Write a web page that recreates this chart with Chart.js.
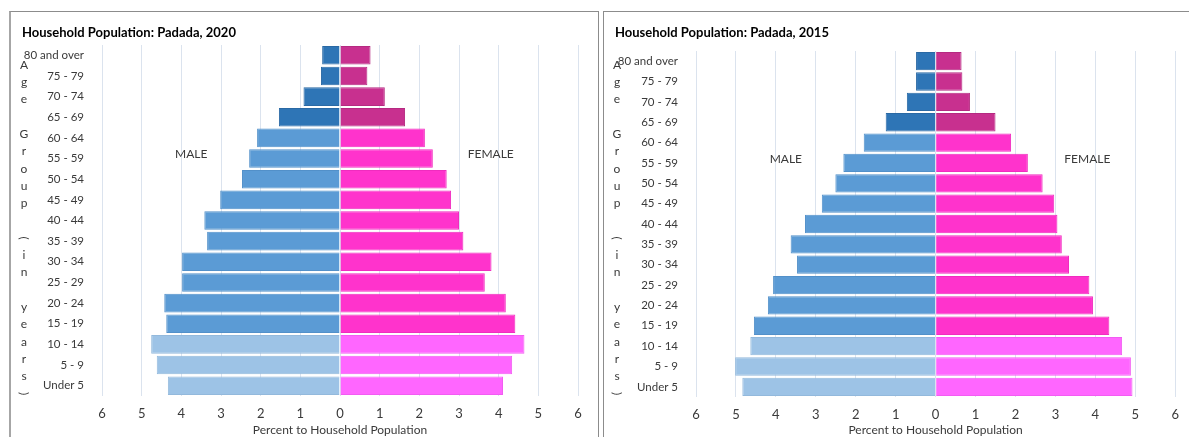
<!DOCTYPE html>
<html>
<head>
<meta charset="utf-8">
<script src="https://cdn.jsdelivr.net/npm/chart.js@4.4.1/dist/chart.umd.min.js"></script>
<style>
  html, body { margin:0; padding:0; background:#fff; width:1189px; height:437px; overflow:hidden; }
  .panel { position:absolute; top:11px; height:440px; border:1px solid #8c8c8c; background:#fff; }
  #p1 { left:9px; width:587px; border-left:2px solid #a6a6a6; }
  #p2 { left:603px; width:600px; }
  canvas { position:absolute; left:0; top:0; }
</style>
</head>
<body>
<div class="panel" id="p1"><canvas id="pyr2020" width="587" height="425"></canvas></div>
<div class="panel" id="p2"><canvas id="pyr2015" width="585" height="425"></canvas></div>
<script>
/* Household population pyramids, Padada 2020 vs 2015 */
const ageGroups = ['80 and over','75 - 79','70 - 74','65 - 69','60 - 64','55 - 59','50 - 54','45 - 49',
  '40 - 44','35 - 39','30 - 34','25 - 29','20 - 24','15 - 19','10 - 14','5 - 9','Under 5'];

const male2020   = [0.45,0.48,0.92,1.54,2.09,2.29,2.47,3.02,3.42,3.35,3.98,3.98,4.43,4.38,4.76,4.62,4.34];
const female2020 = [0.77,0.69,1.13,1.64,2.14,2.34,2.69,2.80,3.00,3.11,3.82,3.65,4.18,4.42,4.65,4.34,4.11];
const male2015   = [0.49,0.49,0.72,1.25,1.80,2.31,2.51,2.85,3.27,3.63,3.47,4.07,4.20,4.55,4.64,5.02,4.84];
const female2015 = [0.65,0.67,0.86,1.50,1.89,2.31,2.68,2.97,3.05,3.16,3.34,3.85,3.94,4.35,4.67,4.89,4.93];

const xTicks = [-6,-5,-4,-3,-2,-1,0,1,2,3,4,5,6];

const FONT = 'Lato, "Liberation Sans", Arial, sans-serif';
const TXT = '#3a3a3a';

// old (65+), working age (15-64), young (0-14)
function tier(i){ return i < 4 ? 0 : (i < 14 ? 1 : 2); }
const maleFill   = ['#2e75b6','#5b9bd5','#9dc3e6'];
const maleEdge   = ['#2a69a4','#5290c9','#93b9dc'];
const femaleFill = ['#c8308f','#ff33cc','#ff66ff'];
const femaleEdge = ['#b52a81','#f02cbf','#f25cf2'];

function decorations(title){
  return {
    id: 'decor',
    afterDraw(chart){
      const c = chart.ctx, x = chart.scales.x, y = chart.scales.y;
      c.save();
      // chart title
      c.fillStyle = '#000';
      c.font = 'bold 13px ' + FONT;
      c.textAlign = 'left'; c.textBaseline = 'middle';
      c.fillText(title, 11, 21);
      // stacked vertical axis title
      c.fillStyle = TXT;
      c.font = '12px ' + FONT;
      c.textAlign = 'center';
      const letters = 'Age Group (in years)'.split('');
      const y0 = 53, step = 17.3;
      letters.forEach((ch, i)=>{
        const yy = y0 + i*step;
        if(ch === '(' || ch === ')'){
          c.save(); c.translate(13, yy); c.rotate(Math.PI/2); c.fillText(ch, 0, 0); c.restore();
        } else if(ch !== ' '){
          c.fillText(ch, 13, yy);
        }
      });
      // side labels
      c.font = '12px ' + FONT;
      const ly = y.getPixelForValue(4.8);
      c.fillText('MALE', x.getPixelForValue(-3.75), ly);
      c.fillText('FEMALE', x.getPixelForValue(3.8), ly);
      c.restore();
    }
  };
}

function pyramid(id, title, male, female, box){
  const el = document.getElementById(id);
  return new Chart(el, {
    type: 'bar',
    data: {
      labels: ageGroups,
      datasets: [
        {
          label: 'Male',
          data: male.map(v=> -v),
          backgroundColor: ageGroups.map((_,i)=> maleFill[tier(i)]),
          borderColor: ageGroups.map((_,i)=> maleEdge[tier(i)]),
          borderWidth: 1,
          barPercentage: 0.9,
          categoryPercentage: 1,
          stack: 'p'
        },
        {
          label: 'Female',
          data: female,
          backgroundColor: ageGroups.map((_,i)=> femaleFill[tier(i)]),
          borderColor: ageGroups.map((_,i)=> femaleEdge[tier(i)]),
          borderWidth: 1,
          barPercentage: 0.9,
          categoryPercentage: 1,
          stack: 'p'
        }
      ]
    },
    options: {
      indexAxis: 'y',
      responsive: false,
      animation: false,
      layout: { padding: { top: box.top, right: box.right, left: 0, bottom: 0 } },
      plugins: { legend: { display: false }, tooltip: { enabled: false } },
      scales: {
        x: {
          stacked: true,
          min: -6, max: 6,
          afterBuildTicks: (s)=>{ s.ticks = xTicks.map(v=>({ value: v })); },
          afterFit: (s)=>{ s.height = box.xh; },
          grid: { color: '#dbe3ee', drawTicks: false },
          border: { display: false },
          ticks: { padding: 10, color: TXT, font: { family: FONT, size: 13 }, callback: (v)=> Math.abs(v) },
          title: { display: true, text: 'Percent to Household Population', color: TXT,
                   padding: { top: 0, bottom: 0 }, font: { family: FONT, size: 12 } }
        },
        y: {
          stacked: true,
          afterFit: (s)=>{ s.width = box.left; },
          grid: { display: false },
          border: { display: false },
          ticks: { padding: 10, color: TXT, font: { family: FONT, size: 11.5 } }
        }
      }
    },
    plugins: [decorations(title)]
  });
}

pyramid('pyr2020', 'Household Population: Padada, 2020', male2020, female2020,
        { top: 33, right: 20, left: 91, xh: 41 });
pyramid('pyr2015', 'Household Population: Padada, 2015', male2015, female2015,
        { top: 39, right: 9, left: 92, xh: 40 });
</script>
</body>
</html>
